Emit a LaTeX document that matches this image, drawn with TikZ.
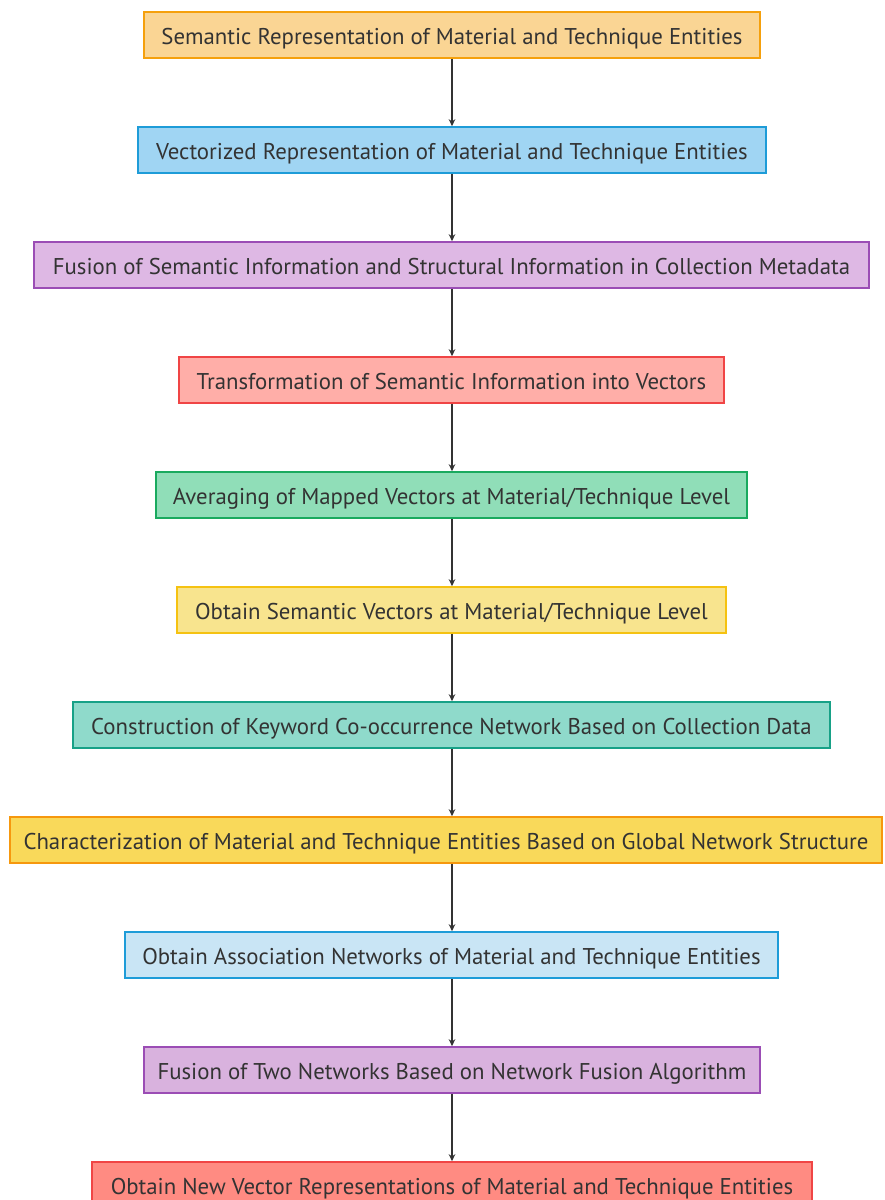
\documentclass[tikz,border=0pt]{standalone}
\usepackage{fontspec}
\setmainfont{PT Sans}
\usetikzlibrary{arrows.meta}
\definecolor{txt}{HTML}{333333}
\definecolor{f1}{HTML}{FAD594}\definecolor{b1}{HTML}{F5A00C}
\definecolor{f2}{HTML}{A0D5F3}\definecolor{b2}{HTML}{1E9CD8}
\definecolor{f3}{HTML}{DEB8E4}\definecolor{b3}{HTML}{9B4DB5}
\definecolor{f4}{HTML}{FFAEA8}\definecolor{b4}{HTML}{F04545}
\definecolor{f5}{HTML}{90DEB8}\definecolor{b5}{HTML}{1AAA5F}
\definecolor{f6}{HTML}{F8E48E}\definecolor{b6}{HTML}{F5C211}
\definecolor{f7}{HTML}{8FDACB}\definecolor{b7}{HTML}{17A187}
\definecolor{f8}{HTML}{F9D95A}\definecolor{b8}{HTML}{F6980E}
\definecolor{f9}{HTML}{C9E5F5}\definecolor{b9}{HTML}{1E9CD8}
\definecolor{f10}{HTML}{D9B2DE}\definecolor{b10}{HTML}{9B4DB5}
\definecolor{f11}{HTML}{FF8B82}\definecolor{b11}{HTML}{F04545}
\tikzset{
  stepbox/.style={draw=#1, line width=1.6pt, minimum height=46pt, inner sep=0pt,
    text height=20pt, text depth=2pt,
    text=txt, font=\fontsize{22.8}{26}\selectfont},
  flow/.style={draw=txt, line width=2pt, -{Stealth[length=7pt,width=6.5pt]}}
}
\begin{document}
\begin{tikzpicture}[x=1pt,y=1pt]
\useasboundingbox (0,0) rectangle (884,-1200);
\coordinate (axis) at (452,0);
\node[stepbox=b1, fill=f1, minimum width=616pt] (n1) at (452,-35) {Semantic Representation of Material and Technique Entities};
\node[stepbox=b2, fill=f2, minimum width=628pt] (n2) at (452,-150) {Vectorized Representation of Material and Technique Entities};
\node[stepbox=b3, fill=f3, minimum width=835pt] (n3) at (451.5,-265) {Fusion of Semantic Information and Structural Information in Collection Metadata};
\node[stepbox=b4, fill=f4, minimum width=545pt] (n4) at (451.5,-380) {Transformation of Semantic Information into Vectors};
\node[stepbox=b5, fill=f5, minimum width=591pt] (n5) at (451.5,-495) {Averaging of Mapped Vectors at Material/Technique Level};
\node[stepbox=b6, fill=f6, minimum width=549pt] (n6) at (451.5,-610) {Obtain Semantic Vectors at Material/Technique Level};
\node[stepbox=b7, fill=f7, minimum width=757pt] (n7) at (451.5,-725) {Construction of Keyword Co-occurrence Network Based on Collection Data};
\node[stepbox=b8, fill=f8, minimum width=872pt] (n8) at (446,-840) {Characterization of Material and Technique Entities Based on Global Network Structure};
\node[stepbox=b9, fill=f9, minimum width=653pt] (n9) at (451.5,-955) {Obtain Association Networks of Material and Technique Entities};
\node[stepbox=b10, fill=f10, minimum width=616pt] (n10) at (452,-1070) {Fusion of Two Networks Based on Network Fusion Algorithm};
\node[stepbox=b11, fill=f11, minimum width=720pt] (n11) at (452,-1185) {Obtain New Vector Representations of Material and Technique Entities};
\foreach \a/\b in {n1/n2,n2/n3,n3/n4,n4/n5,n5/n6,n6/n7,n7/n8,n8/n9,n9/n10,n10/n11}
  \draw[flow] (\a.south -| axis) -- (\b.north -| axis);
\end{tikzpicture}
\end{document}
